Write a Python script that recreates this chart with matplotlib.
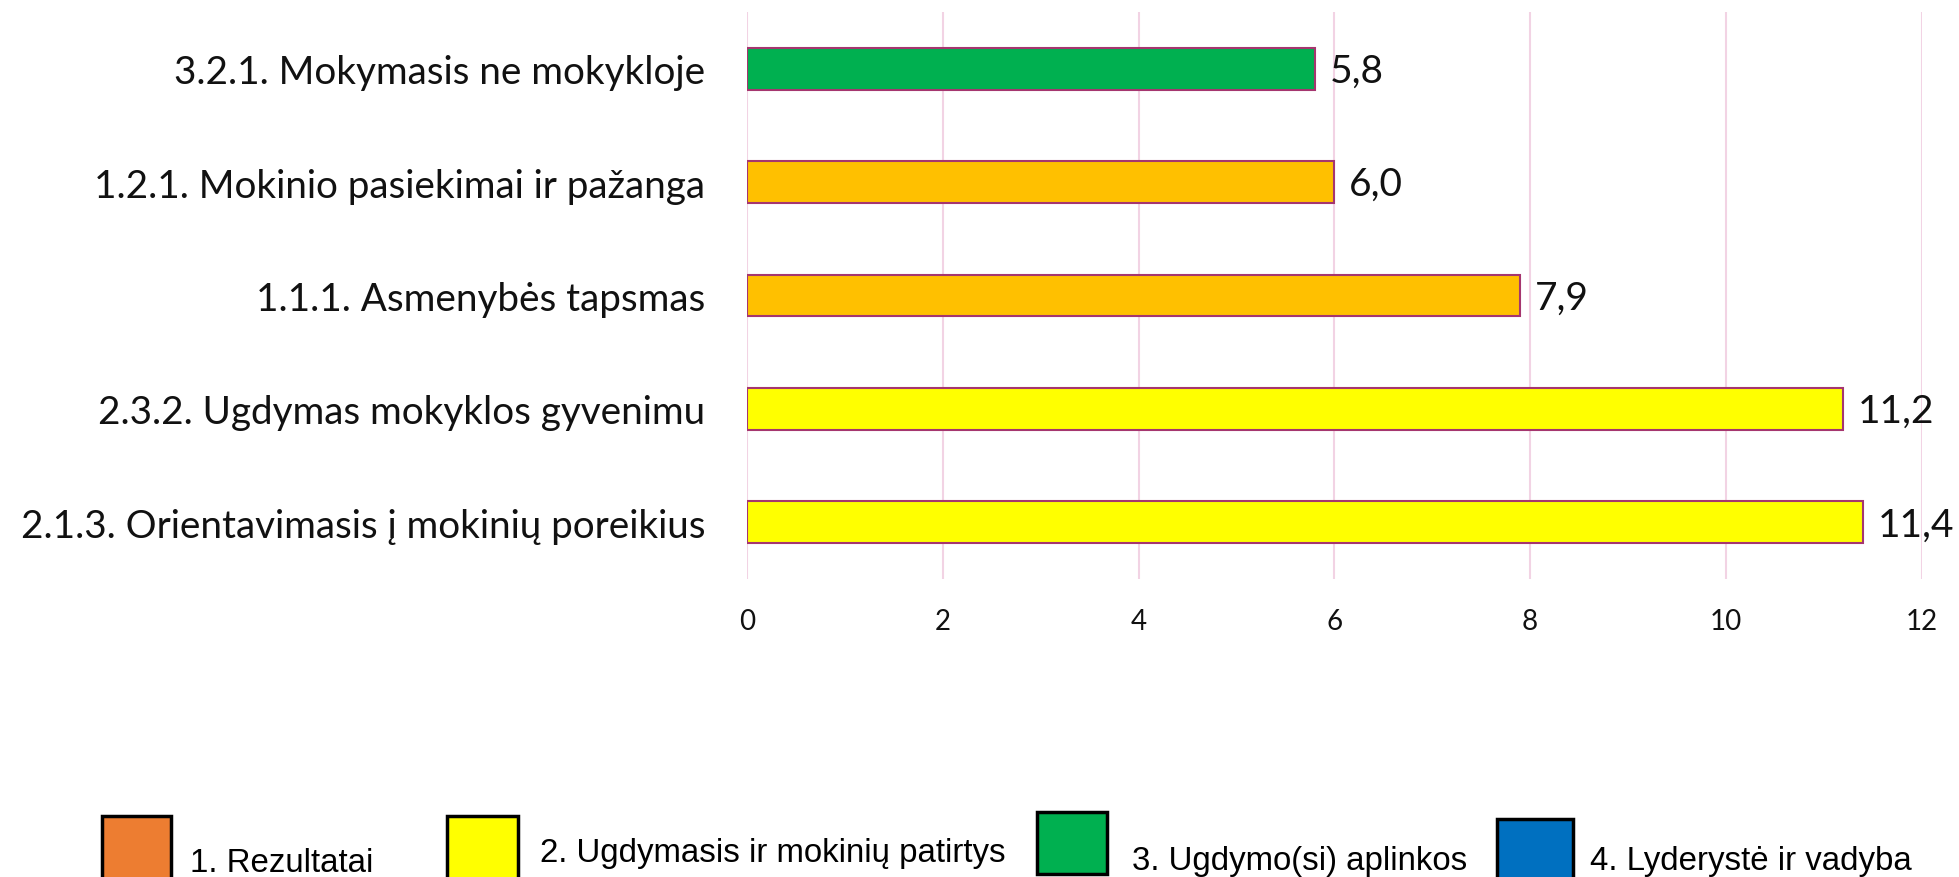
import matplotlib
matplotlib.use("Agg")
import matplotlib.pyplot as plt
from matplotlib.patches import Rectangle

# data, listed top to bottom as in the chart
categories = [
    "3.2.1. Mokymasis ne mokykloje",
    "1.2.1. Mokinio pasiekimai ir pažanga",
    "1.1.1. Asmenybės tapsmas",
    "2.3.2. Ugdymas mokyklos gyvenimu",
    "2.1.3. Orientavimasis į mokinių poreikius",
]
values = [5.8, 6.0, 7.9, 11.2, 11.4]
bar_colors = ["#00B050", "#FFC000", "#FFC000", "#FFFF00", "#FFFF00"]
value_labels = ["5,8", "6,0", "7,9", "11,2", "11,4"]
xticks = [0, 2, 4, 6, 8, 10, 12]

legend_labels = [
    "1. Rezultatai",
    "2. Ugdymasis ir mokinių patirtys",
    "3. Ugdymo(si) aplinkos",
    "4. Lyderystė ir vadyba",
]
legend_colors = ["#ED7D31", "#FFFF00", "#00B050", "#0070C0"]

W, H = 1959, 878
fig = plt.figure(figsize=(W / 100, H / 100), dpi=100)
ax = fig.add_axes([747 / W, 1 - 580 / H, (1921.6 - 747) / W, (580 - 13) / H])

ypos = list(range(len(categories)))
ax.barh(ypos, values, height=0.37, color=bar_colors,
        edgecolor="#A5366F", linewidth=1.5, zorder=3)
ax.set_ylim(-0.5, len(categories) - 0.5)
ax.invert_yaxis()
ax.set_xlim(0, 12)

ax.set_xticks(xticks)
ax.set_xticklabels([str(t) for t in xticks], fontfamily="Lato",
                   fontsize=20, color="#111111")
ax.set_yticks(ypos)
ax.set_yticklabels(categories, fontfamily="Lato", fontsize=27.8,
                   color="#111111")
ax.tick_params(axis="x", length=0, pad=21)
ax.tick_params(axis="y", length=0, pad=30)

ax.grid(axis="x", color="#F2D3E4", linewidth=1.5, zorder=0)
ax.grid(axis="y", visible=False)
for s in ax.spines.values():
    s.set_visible(False)

for y, v, lab in zip(ypos, values, value_labels):
    ax.annotate(lab, (v, y), xytext=(15, -2), textcoords="offset pixels",
                va="center", ha="left", fontfamily="Lato",
                fontsize=28, color="#111111")

# legend drawn as a strip at the bottom
box_x = [102, 447, 1037, 1497]
box_w = [69, 71, 70, 76]
box_top = [817, 817, 813, 820]
box_bot = [880, 880, 875, 880]
text_x = [190, 540, 1132, 1590]
text_y = [864, 854, 862, 862]
for i, (lab, col) in enumerate(zip(legend_labels, legend_colors)):
    r = Rectangle((box_x[i] / W, 1 - box_bot[i] / H), box_w[i] / W,
                  (box_bot[i] - box_top[i]) / H, transform=fig.transFigure,
                  facecolor=col, edgecolor="#000000", linewidth=2.5,
                  clip_on=False)
    fig.add_artist(r)
    fig.text(text_x[i] / W, 1 - text_y[i] / H, lab, ha="left", va="center",
             fontfamily="Liberation Sans", fontsize=23.8, color="#000000")

fig.savefig("out.png", dpi=100, facecolor="white")
